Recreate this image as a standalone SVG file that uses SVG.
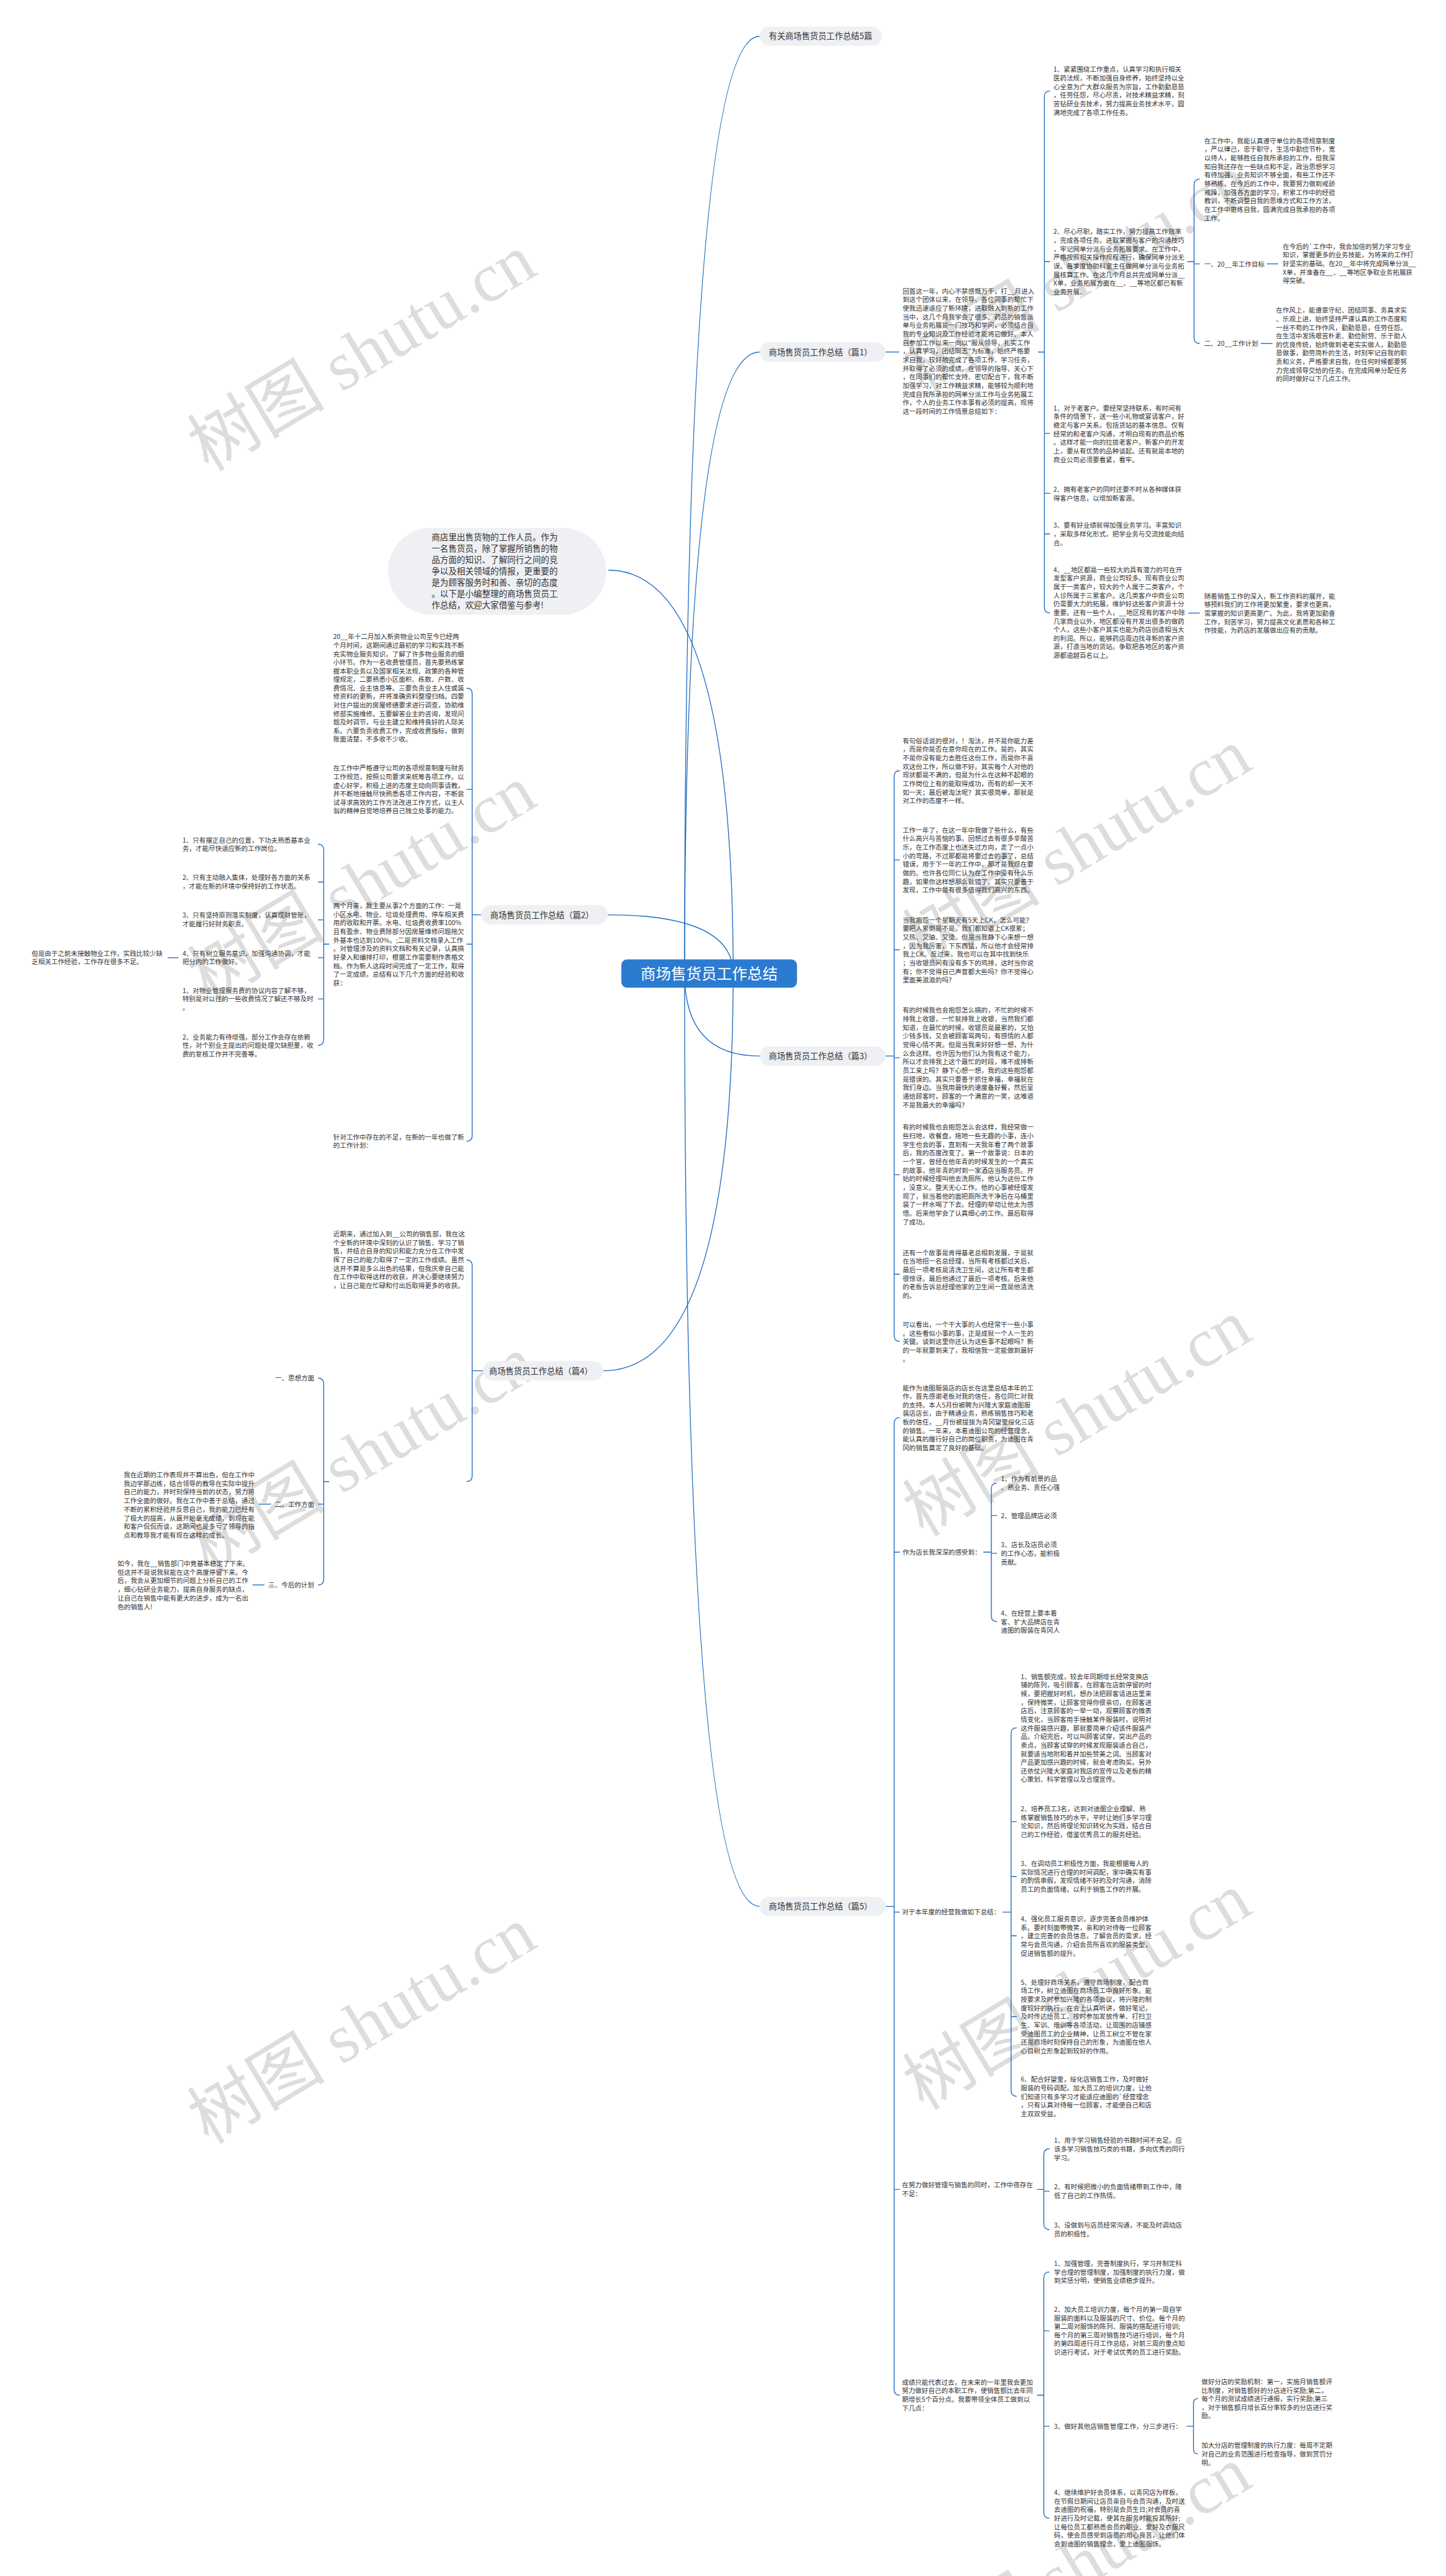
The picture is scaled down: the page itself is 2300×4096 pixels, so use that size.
<svg xmlns="http://www.w3.org/2000/svg" width="2300" height="4096" viewBox="0 0 2300 4096">
<style>
.t{font-family:"Noto Sans CJK SC","Noto Sans",sans-serif;font-size:11.6px;fill:#333}
.lb{font-size:14.6px;fill:#333}
.ib{font-size:14.9px;fill:#333}
.box{fill:#eef0f3}
.ln{fill:none;stroke:#1f6cc0;stroke-width:1.5}
.wm{font-family:"Liberation Serif","Noto Sans CJK SC",serif;font-size:122px;fill:#cfcfcf;fill-opacity:.7}
</style>
<rect width="2300" height="4096" fill="#ffffff"/>
<g transform="scale(0.8984375)">
<g id="watermark">
<text class="wm" text-anchor="middle" transform="translate(662,660) rotate(-31)">树图 shutu.cn</text>
<text class="wm" text-anchor="middle" transform="translate(1928,520) rotate(-31)">树图 shutu.cn</text>
<text class="wm" text-anchor="middle" transform="translate(662,1600) rotate(-31)">树图 shutu.cn</text>
<text class="wm" text-anchor="middle" transform="translate(1928,1535) rotate(-31)">树图 shutu.cn</text>
<text class="wm" text-anchor="middle" transform="translate(662,2610) rotate(-31)">树图 shutu.cn</text>
<text class="wm" text-anchor="middle" transform="translate(1928,2545) rotate(-31)">树图 shutu.cn</text>
<text class="wm" text-anchor="middle" transform="translate(662,3620) rotate(-31)">树图 shutu.cn</text>
<text class="wm" text-anchor="middle" transform="translate(1928,3560) rotate(-31)">树图 shutu.cn</text>
<text class="wm" text-anchor="middle" transform="translate(1928,4575) rotate(-31)">树图 shutu.cn</text>
</g>
<g id="connectors">
<path class="ln" d="M1212 1723 Q1212 64 1345 64"/>
<path class="ln" d="M1212 1723 Q1212 623 1345 623"/>
<path class="ln" d="M1212 1723 Q1212 1869 1345 1869"/>
<path class="ln" d="M1212 1723 Q1212 3374 1345 3374"/>
<path class="ln" d="M1298 1723 Q1298 1009 1077 1009"/>
<path class="ln" d="M1298 1723 Q1298 1619 1076 1619"/>
<path class="ln" d="M1298 1723 Q1298 2426 1068 2426"/>
<path class="ln" d="M1568 623 H1592"/>
<path class="ln" d="M1838 623 H1849 M1859 161 Q1849 161 1849 171 V1075 Q1849 1085 1859 1085 M1849 463 H1859 M1849 767 H1859 M1849 873 H1859 M1849 945 H1859"/>
<path class="ln" d="M2102 463 H2114 M2124 317 Q2114 317 2114 327 V598 Q2114 608 2124 608 M2114 467 H2124"/>
<path class="ln" d="M2243 467 H2263"/>
<path class="ln" d="M2232 608 H2253"/>
<path class="ln" d="M2104 1085 H2124"/>
<path class="ln" d="M852 1619 H836 M826 1218 Q836 1218 836 1228 V2010 Q836 2020 826 2020 M836 1397 H826 M836 1671 H826"/>
<path class="ln" d="M583 1671 H573 M563 1494 Q573 1494 573 1504 V1840 Q573 1850 563 1850 M573 1561 H563 M573 1628 H563 M573 1695 H563 M573 1768 H563"/>
<path class="ln" d="M316 1695 H297"/>
<path class="ln" d="M1568 1869 H1583 M1593 1364 Q1583 1364 1583 1374 V2364 Q1583 2374 1593 2374 M1583 1522 H1593 M1583 1681 H1593 M1583 1872 H1593 M1583 2079 H1593 M1583 2255 H1593"/>
<path class="ln" d="M855 2426 H836 M826 2230 Q836 2230 836 2240 V2612 Q836 2622 826 2622"/>
<path class="ln" d="M583 2622 H573 M563 2439 Q573 2439 573 2449 V2795 Q573 2805 563 2805 M573 2662 H563"/>
<path class="ln" d="M480 2662 H458"/>
<path class="ln" d="M468 2805 H447"/>
<path class="ln" d="M1568 3374 H1583 M1593 2509 Q1583 2509 1583 2519 V4229 Q1583 4239 1593 4239 M1583 2747 H1593 M1583 3384 H1593 M1583 3875 H1593"/>
<path class="ln" d="M1741 2747 H1755 M1765 2625 Q1755 2625 1755 2635 V2860 Q1755 2870 1765 2870 M1755 2682 H1765 M1755 2749 H1765"/>
<path class="ln" d="M1775 3384 H1790 M1800 3058 Q1790 3058 1790 3068 V3700 Q1790 3710 1800 3710 M1790 3224 H1800 M1790 3321 H1800 M1790 3426 H1800 M1790 3569 H1800"/>
<path class="ln" d="M1836 3875 H1848 M1858 3803 Q1848 3803 1848 3813 V3936 Q1848 3946 1858 3946 M1848 3878 H1858"/>
<path class="ln" d="M1836 4239 H1848 M1858 4021 Q1848 4021 1848 4031 V4447 Q1848 4457 1858 4457 M1848 4125 H1858 M1848 4294 H1858"/>
<path class="ln" d="M2101 4294 H2113 M2121 4245 Q2113 4245 2113 4253 V4335 Q2113 4343 2121 4343"/>
</g>
<g id="n-center">
<rect x="1100" y="1698" width="311" height="50" rx="10" fill="#2b7bd0"/>
<text x="1255.5" y="1732.5" text-anchor="middle" style="font-family:'Noto Sans CJK SC',sans-serif;font-size:27px;fill:#fff">商场售货员工作总结</text>
</g>
<g id="n-top"><rect class="box" x="1345" y="47" width="216" height="34" rx="17"/><text class="t lb" x="1361" y="69.5">有关商场售货员工作总结5篇</text></g>
<g id="n-intro"><rect class="box" x="687" y="934" width="386" height="154" rx="77"/>
<text class="t ib" x="764" y="956"><tspan x="764">商店里出售货物的工作人员。作为</tspan><tspan x="764" dy="20">一名售货员，除了掌握所销售的物</tspan><tspan x="764" dy="20">品方面的知识、了解同行之间的竞</tspan><tspan x="764" dy="20">争以及相关领域的情报，更重要的</tspan><tspan x="764" dy="20">是为顾客服务时和善、亲切的态度</tspan><tspan x="764" dy="20">。以下是小编整理的商场售货员工</tspan><tspan x="764" dy="20">作总结，欢迎大家借鉴与参考!</tspan></text></g>
<g id="n-p1"><rect class="box" x="1345" y="606" width="223" height="34" rx="17"/><text class="t lb" x="1361" y="628.5">商场售货员工作总结（篇1）</text></g>
<g id="n-p2"><rect class="box" x="852" y="1602" width="224" height="34" rx="17"/><text class="t lb" x="868" y="1624.5">商场售货员工作总结（篇2）</text></g>
<g id="n-p3"><rect class="box" x="1345" y="1852" width="223" height="34" rx="17"/><text class="t lb" x="1361" y="1874.5">商场售货员工作总结（篇3）</text></g>
<g id="n-p4"><rect class="box" x="855" y="2409" width="213" height="34" rx="17"/><text class="t lb" x="866" y="2431.5">商场售货员工作总结（篇4）</text></g>
<g id="n-p5"><rect class="box" x="1345" y="3357" width="223" height="34" rx="17"/><text class="t lb" x="1361" y="3379.5">商场售货员工作总结（篇5）</text></g>

<g id="n-a0"><text class="t" x="1598" y="519.4"><tspan x="1598">回首这一年，内心不禁感慨万千，打__月进入</tspan><tspan x="1598" dy="15.2">到这个团体以来，在领导、各位同事的帮忙下</tspan><tspan x="1598" dy="15.2">使我迅速适应了新环境，进取融入到新的工作</tspan><tspan x="1598" dy="15.2">当中，这几个月我学会了很多。药品的销售派</tspan><tspan x="1598" dy="15.2">单与业务拓展是一门技巧和学问，必须结合自</tspan><tspan x="1598" dy="15.2">我的专业知识及工作经验才能将它做好。本人</tspan><tspan x="1598" dy="15.2">自参加工作以来一向以"服从领导，扎实工作</tspan><tspan x="1598" dy="15.2">，认真学习，团结同志"为标准，始终严格要</tspan><tspan x="1598" dy="15.2">求自我，较好地完成了各项工作、学习任务，</tspan><tspan x="1598" dy="15.2">并取得了必须的成绩。在领导的指导、关心下</tspan><tspan x="1598" dy="15.2">，在同事们的帮忙支持、密切配合下，我不断</tspan><tspan x="1598" dy="15.2">加强学习，对工作精益求精，能够较为顺利地</tspan><tspan x="1598" dy="15.2">完成自我所承担的网单分派工作与业务拓展工</tspan><tspan x="1598" dy="15.2">作，个人的业务工作本事有必须的提高，现将</tspan><tspan x="1598" dy="15.2">这一段时间的工作情景总结如下：</tspan></text></g>
<g id="n-a1"><text class="t" x="1865" y="127.4"><tspan x="1865">1、紧紧围绕工作重点，认真学习和执行相关</tspan><tspan x="1865" dy="15.2">医药法规，不断加强自身修养，始终坚持以全</tspan><tspan x="1865" dy="15.2">心全意为广大群众服务为宗旨，工作勤勤恳恳</tspan><tspan x="1865" dy="15.2">，任劳任怨，尽心尽责，对技术精益求精，刻</tspan><tspan x="1865" dy="15.2">苦钻研业务技术，努力提高业务技术水平，圆</tspan><tspan x="1865" dy="15.2">满地完成了各项工作任务。</tspan></text></g>
<g id="n-a2"><text class="t" x="1865" y="414.4"><tspan x="1865">2、尽心尽职，踏实工作，努力提高工作效率</tspan><tspan x="1865" dy="15.2">，完成各项任务。进取掌握与客户的沟通技巧</tspan><tspan x="1865" dy="15.2">，牢记网单分派与业务拓展要求。在工作中，</tspan><tspan x="1865" dy="15.2">严格按照相关操作规程进行，确保网单分派无</tspan><tspan x="1865" dy="15.2">误。每季度协助科室主任做网单分派与业务拓</tspan><tspan x="1865" dy="15.2">展核算工作。在这几个月总共完成网单分派__</tspan><tspan x="1865" dy="15.2">X单，业务拓展方面在__、__等地区都已有新</tspan><tspan x="1865" dy="15.2">业务开展。</tspan></text></g>
<g id="n-b1"><text class="t" x="2132" y="253.4"><tspan x="2132">在工作中，我能认真遵守单位的各项规章制度</tspan><tspan x="2132" dy="15.2">，严以律己，忠于职守，生活中勤俭节朴，宽</tspan><tspan x="2132" dy="15.2">以待人，能够胜任自我所承担的工作，但我深</tspan><tspan x="2132" dy="15.2">知自我还存在一些缺点和不足，政治思想学习</tspan><tspan x="2132" dy="15.2">有待加强，业务知识不够全面，有些工作还不</tspan><tspan x="2132" dy="15.2">够熟练。在今后的工作中，我要努力做到戒骄</tspan><tspan x="2132" dy="15.2">戒躁，加强各方面的学习，积累工作中的经验</tspan><tspan x="2132" dy="15.2">教训，不断调整自我的思维方式和工作方法，</tspan><tspan x="2132" dy="15.2">在工作中磨练自我，圆满完成自我承担的各项</tspan><tspan x="2132" dy="15.2">工作。</tspan></text></g>
<g id="n-b2"><text class="t" x="2132" y="471.4">一、20__年工作目标</text></g>
<g id="n-b3"><text class="t" x="2271" y="440.4"><tspan x="2271">在今后的`工作中，我会加倍的努力学习专业</tspan><tspan x="2271" dy="15.2">知识，掌握更多的业务技能，为将来的工作打</tspan><tspan x="2271" dy="15.2">好坚实的基础。在20__年中将完成网单分派__</tspan><tspan x="2271" dy="15.2">X单，并准备在__、__等地区争取业务拓展获</tspan><tspan x="2271" dy="15.2">得突破。</tspan></text></g>
<g id="n-b4"><text class="t" x="2132" y="612.4">二、20__工作计划</text></g>
<g id="n-b5"><text class="t" x="2259" y="553.4"><tspan x="2259">在作风上，能遵章守纪、团结同事、务真求实</tspan><tspan x="2259" dy="15.2">、乐观上进，始终坚持严谨认真的工作态度和</tspan><tspan x="2259" dy="15.2">一丝不苟的工作作风，勤勤恳恳，任劳任怨。</tspan><tspan x="2259" dy="15.2">在生活中发扬艰苦朴素、勤俭耐劳、乐于助人</tspan><tspan x="2259" dy="15.2">的优良传统，始终做到老老实实做人，勤勤恳</tspan><tspan x="2259" dy="15.2">恳做事，勤劳简朴的生活，时刻牢记自我的职</tspan><tspan x="2259" dy="15.2">责和义务，严格要求自我，在任何时候都要努</tspan><tspan x="2259" dy="15.2">力完成领导交给的任务。在完成网单分配任务</tspan><tspan x="2259" dy="15.2">的同时做好以下几点工作。</tspan></text></g>
<g id="n-a3"><text class="t" x="1865" y="726.4"><tspan x="1865">1、对于老客户。要经常坚持联系，有时间有</tspan><tspan x="1865" dy="15.2">条件的情景下，送一些小礼物或宴请客户，好</tspan><tspan x="1865" dy="15.2">稳定与客户关系。包括货站的基本信息。仅有</tspan><tspan x="1865" dy="15.2">经常的和老客户沟通，才明白现有的商品价格</tspan><tspan x="1865" dy="15.2">。这样才能一向的拉拢老客户。新客户的开发</tspan><tspan x="1865" dy="15.2">上，要从有优势的品种谈起。还有就是本地的</tspan><tspan x="1865" dy="15.2">商业公司必须要看紧，看牢。</tspan></text></g>
<g id="n-a4"><text class="t" x="1865" y="870.4"><tspan x="1865">2、拥有老客户的同时还要不时从各种媒体获</tspan><tspan x="1865" dy="15.2">得客户信息，以增加新客源。</tspan></text></g>
<g id="n-a5"><text class="t" x="1865" y="934.4"><tspan x="1865">3、要有好业绩就得加强业务学习。丰富知识</tspan><tspan x="1865" dy="15.2">，采取多样化形式，把学业务与交流技能向结</tspan><tspan x="1865" dy="15.2">合。</tspan></text></g>
<g id="n-a6"><text class="t" x="1865" y="1012.4"><tspan x="1865">4、__地区都是一些较大的具有潜力的可在开</tspan><tspan x="1865" dy="15.2">发型客户资源，商业公司较多。现有商业公司</tspan><tspan x="1865" dy="15.2">属于一类客户，较大的个人属于二类客户，个</tspan><tspan x="1865" dy="15.2">人诊所属于三累客户。这几类客户中商业公司</tspan><tspan x="1865" dy="15.2">仍需要大力的拓展，维护好这些客户资源十分</tspan><tspan x="1865" dy="15.2">重要。还有一些个人，__地区现有的客户中除</tspan><tspan x="1865" dy="15.2">几家商业以外，地区都没有开发出很多的做药</tspan><tspan x="1865" dy="15.2">个人，这些小客户其实也能为药店创造相当大</tspan><tspan x="1865" dy="15.2">的利润。所以，能够药店周边找寻新的客户资</tspan><tspan x="1865" dy="15.2">源，打造当地的货站。争取把各地区的客户资</tspan><tspan x="1865" dy="15.2">源都逾越百名以上。</tspan></text></g>
<g id="n-b6"><text class="t" x="2132" y="1059.4"><tspan x="2132">随着销售工作的深入，新工作资料的展开，能</tspan><tspan x="2132" dy="15.2">够预料我们的工作将更加繁重，要求也更高，</tspan><tspan x="2132" dy="15.2">需掌握的知识更高更广。为此，我将更加勤奋</tspan><tspan x="2132" dy="15.2">工作，刻苦学习，努力提高文化素质和各种工</tspan><tspan x="2132" dy="15.2">作技能，为药店的发展做出应有的贡献。</tspan></text></g>

<g id="n-c1"><text class="t" x="590" y="1131.4"><tspan x="590">20__年十二月加入新资物业公司至今已经两</tspan><tspan x="590" dy="15.1">个月时间，这期间通过最初的学习和实践不断</tspan><tspan x="590" dy="15.1">充实物业服务知识，了解了许多物业服务的细</tspan><tspan x="590" dy="15.1">小环节。作为一名收费管理员，首先要熟练掌</tspan><tspan x="590" dy="15.1">握本职业务以及国家相关法规、政策的各种管</tspan><tspan x="590" dy="15.1">理规定，二要熟悉小区面积、栋数、户数、收</tspan><tspan x="590" dy="15.1">费情况、业主信息等。三要负责业主入住或装</tspan><tspan x="590" dy="15.1">修资料的更新，并将准确资料整理归档。四要</tspan><tspan x="590" dy="15.1">对住户提出的房屋修缮要求进行调查，协助维</tspan><tspan x="590" dy="15.1">修部实施维修。五要解答业主的咨询，发现问</tspan><tspan x="590" dy="15.1">题及时调节，与业主建立和维持良好的人际关</tspan><tspan x="590" dy="15.1">系。六要负责收费工作，完成收费指标，做到</tspan><tspan x="590" dy="15.1">账面清楚，不多收不少收。</tspan></text></g>
<g id="n-c2"><text class="t" x="590" y="1363.9"><tspan x="590">在工作中严格遵守公司的各项规章制度与财务</tspan><tspan x="590" dy="15.1">工作规范，按照公司要求来统筹各项工作。以</tspan><tspan x="590" dy="15.1">虚心好学，积极上进的态度主动向同事请教，</tspan><tspan x="590" dy="15.1">并不断地接触尽快熟悉各项工作内容，不断尝</tspan><tspan x="590" dy="15.1">试寻求高效的工作方法改进工作方式，以主人</tspan><tspan x="590" dy="15.1">翁的精神自觉地培养自己独立处事的能力。</tspan></text></g>
<g id="n-c3"><text class="t" x="590" y="1607.4"><tspan x="590">两个月来，我主要从事2个方面的工作：一是</tspan><tspan x="590" dy="15.2">小区水电、物业、垃圾处理费用、停车相关费</tspan><tspan x="590" dy="15.2">用的收取和开票。水电、垃圾费收费率100%</tspan><tspan x="590" dy="15.2">且有盈余、物业费除部分因房屋维修问题拖欠</tspan><tspan x="590" dy="15.2">外基本也达到100%。;二是资料文档录入工作</tspan><tspan x="590" dy="15.2">。对管理涉及的资料文档和有关记录，认真搞</tspan><tspan x="590" dy="15.2">好录入和编排打印，根据工作需要制作表格文</tspan><tspan x="590" dy="15.2">档。作为新人这段时间完成了一定工作，取得</tspan><tspan x="590" dy="15.2">了一定成绩，总结有以下几个方面的经验和收</tspan><tspan x="590" dy="15.2">获：</tspan></text></g>
<g id="n-c4"><text class="t" x="590" y="2016.4"><tspan x="590">针对工作中存在的不足，在新的一年也做了新</tspan><tspan x="590" dy="15.2">的工作计划：</tspan></text></g>
<g id="n-d1"><text class="t" x="323" y="1491.1"><tspan x="323">1、只有摆正自己的位置，下功夫熟悉基本业</tspan><tspan x="323" dy="15">务，才能尽快适应新的工作岗位。</tspan></text></g>
<g id="n-d2"><text class="t" x="323" y="1557.4"><tspan x="323">2、只有主动融入集体，处理好各方面的关系</tspan><tspan x="323" dy="15">，才能在新的环境中保持好的工作状态。</tspan></text></g>
<g id="n-d3"><text class="t" x="323" y="1624.4"><tspan x="323">3、只有坚持原则落实制度，认真理财管账，</tspan><tspan x="323" dy="15">才能履行好财务职责。</tspan></text></g>
<g id="n-d4"><text class="t" x="323" y="1691.4"><tspan x="323">4、只有树立服务意识，加强沟通协调，才能</tspan><tspan x="323" dy="15">把分内的工作做好。</tspan></text></g>
<g id="n-d5"><text class="t" x="323" y="1757.4"><tspan x="323">1、对物业管理服务费的协议内容了解不够，</tspan><tspan x="323" dy="15">特别是对以往的一些收费情况了解还不够及时</tspan><tspan x="323" dy="15">。</tspan></text></g>
<g id="n-d6"><text class="t" x="323" y="1839.4"><tspan x="323">2、业务能力有待增强，部分工作会存在依赖</tspan><tspan x="323" dy="15">性，对个别业主提出的问题处理欠缺胆量，收</tspan><tspan x="323" dy="15">费的复核工作并不完善等。</tspan></text></g>
<g id="n-d7"><text class="t" x="56" y="1691.4"><tspan x="56">但是由于之前未接触物业工作，实践比较少缺</tspan><tspan x="56" dy="15">乏相关工作经验，工作存在很多不足。</tspan></text></g>

<g id="n-e1"><text class="t" x="1598" y="1315.4"><tspan x="1598">有句俗话说的很对，！淘汰，并不是你能力差</tspan><tspan x="1598" dy="15.2">，而是你是否在意你现在的工作。是的，其实</tspan><tspan x="1598" dy="15.2">不是你没有能力去胜任这份工作，而是你不喜</tspan><tspan x="1598" dy="15.2">欢这份工作，所以做不好。其实每个人对他的</tspan><tspan x="1598" dy="15.2">现状都是不满的，但是为什么在这种不起眼的</tspan><tspan x="1598" dy="15.2">工作岗位上有的能取得成功，而有的却一天不</tspan><tspan x="1598" dy="15.2">如一天；最后被淘汰呢？其实很简单，那就是</tspan><tspan x="1598" dy="15.2">对工作的态度不一样。</tspan></text></g>
<g id="n-e2"><text class="t" x="1598" y="1473.4"><tspan x="1598">工作一年了，在这一年中我做了些什么，有些</tspan><tspan x="1598" dy="15.2">什么高兴与苦恼的事。回想过去有很多辛酸苦</tspan><tspan x="1598" dy="15.2">乐，在工作态度上也迷失过方向，走了一点小</tspan><tspan x="1598" dy="15.2">小的弯路，不过那都是将要过去的事了，总结</tspan><tspan x="1598" dy="15.2">错误，用于下一年的工作中，那才是我现在要</tspan><tspan x="1598" dy="15.2">做的。也许各位同仁认为在工作中没有什么乐</tspan><tspan x="1598" dy="15.2">趣，如果你这样想那么就错了。其实只要善于</tspan><tspan x="1598" dy="15.2">发现，工作中是有很多值得我们高兴的东西。</tspan></text></g>
<g id="n-e3"><text class="t" x="1598" y="1632.4"><tspan x="1598">当我抱怨一个星期天有5天上CK，怎么可能？</tspan><tspan x="1598" dy="15.2">要把人累倒是不是。我们都知道上CK很累；</tspan><tspan x="1598" dy="15.2">又热、又油、又烫。但是当我静下心来想一想</tspan><tspan x="1598" dy="15.2">，因为我厉害，下东西猛，所以他才会经常排</tspan><tspan x="1598" dy="15.2">我上CK。反过来，我也可以在其中找到快乐</tspan><tspan x="1598" dy="15.2">；当收银员问有没有多下的鸡排，这时当你说</tspan><tspan x="1598" dy="15.2">有；你不觉得自己声音都大些吗？你不觉得心</tspan><tspan x="1598" dy="15.2">里面美滋滋的吗？</tspan></text></g>
<g id="n-e4"><text class="t" x="1598" y="1792.4"><tspan x="1598">有的时候我也会抱怨怎么搞的，不忙的时候不</tspan><tspan x="1598" dy="15.2">排我上收银，一忙就排我上收银，当然我们都</tspan><tspan x="1598" dy="15.2">知道，在最忙的时候，收银员是最累的，又怕</tspan><tspan x="1598" dy="15.2">少钱多钱，又会被顾客骂两句，有感情的人都</tspan><tspan x="1598" dy="15.2">觉得心情不爽。但是当我来好好想一想，为什</tspan><tspan x="1598" dy="15.2">么会这样。也许因为他们认为我有这个能力，</tspan><tspan x="1598" dy="15.2">所以才会排我上这个最忙的时段，难不成排新</tspan><tspan x="1598" dy="15.2">员工来上吗？静下心想一想，我的这些抱怨都</tspan><tspan x="1598" dy="15.2">是错误的。其实只要善于抓住幸福，幸福就在</tspan><tspan x="1598" dy="15.2">我们身边。当我用最快的速度备好餐，然后呈</tspan><tspan x="1598" dy="15.2">递给顾客时，顾客的一个满意的一笑，这难道</tspan><tspan x="1598" dy="15.2">不是我最大的幸福吗？</tspan></text></g>
<g id="n-e5"><text class="t" x="1598" y="1999.4"><tspan x="1598">有的时候我也会抱怨怎么会这样，我经常做一</tspan><tspan x="1598" dy="15.2">些扫地，收餐盘，拖地一些无趣的小事，连小</tspan><tspan x="1598" dy="15.2">学生也会的事，直到有一天我年看了两个故事</tspan><tspan x="1598" dy="15.2">后，我的态度改变了。第一个故事说：日本的</tspan><tspan x="1598" dy="15.2">一个官，曾经在他年青的时候发生的一个真实</tspan><tspan x="1598" dy="15.2">的故事，他年青的时到一家酒店当服务员。开</tspan><tspan x="1598" dy="15.2">始的时候经理叫他去洗厕所，他认为这份工作</tspan><tspan x="1598" dy="15.2">，没意义。整天无心工作。他的心事被经理发</tspan><tspan x="1598" dy="15.2">现了，就当着他的面把厕所洗干净后在马桶里</tspan><tspan x="1598" dy="15.2">装了一杯水喝了下去。经理的举动让他太为感</tspan><tspan x="1598" dy="15.2">悟。后来他学会了认真细心的工作。最后取得</tspan><tspan x="1598" dy="15.2">了成功。</tspan></text></g>
<g id="n-e6"><text class="t" x="1598" y="2221.4"><tspan x="1598">还有一个故事是肯得基老总相到发展，于是就</tspan><tspan x="1598" dy="15.2">在当地招一名总经理，当所有考核都过关后，</tspan><tspan x="1598" dy="15.2">最后一项考核是清洗卫生间，这让所有考生都</tspan><tspan x="1598" dy="15.2">很惊讶。最后他通过了最后一项考核。后来他</tspan><tspan x="1598" dy="15.2">的老板告诉总经理他家的卫生间一直是他清洗</tspan><tspan x="1598" dy="15.2">的。</tspan></text></g>
<g id="n-e7"><text class="t" x="1598" y="2348.4"><tspan x="1598">可以看出，一个干大事的人也经常干一些小事</tspan><tspan x="1598" dy="15.2">。这些看似小事的事，正是成就一个人一生的</tspan><tspan x="1598" dy="15.2">关键。谈到这里你还认为这些事不起眼吗？新</tspan><tspan x="1598" dy="15.2">的一年就要到来了，我相信我一定能做到最好</tspan><tspan x="1598" dy="15.2">。</tspan></text></g>

<g id="n-c5"><text class="t" x="590" y="2188.4"><tspan x="590">近期来，通过加入到__公司的销售部，我在这</tspan><tspan x="590" dy="15.2">个全新的环境中深刻的认识了销售、学习了销</tspan><tspan x="590" dy="15.2">售，并结合自身的知识和能力充分在工作中发</tspan><tspan x="590" dy="15.2">挥了自己的能力取得了一定的工作成绩。虽然</tspan><tspan x="590" dy="15.2">这并不算是多么出色的结果，但我庆幸自己能</tspan><tspan x="590" dy="15.2">在工作中取得这样的收获，并决心要继续努力</tspan><tspan x="590" dy="15.2">，让自己能在忙碌和付出后取得更多的收获。</tspan></text></g>
<g id="n-g1"><text class="t" x="487" y="2443.4">一、思想方面</text></g>
<g id="n-g2"><text class="t" x="487" y="2666.4">二、工作方面</text></g>
<g id="n-g2t"><text class="t" x="219" y="2614.4"><tspan x="219">我在近期的工作表现并不算出色，但在工作中</tspan><tspan x="219" dy="15.3">我边学那边练，结合领导的教导在实际中提升</tspan><tspan x="219" dy="15.3">自己的能力，并时刻保持当前的状态，努力将</tspan><tspan x="219" dy="15.3">工作全面的做好。我在工作中善于总结，通过</tspan><tspan x="219" dy="15.3">不断的累积经验并反思自己，我的能力已经有</tspan><tspan x="219" dy="15.3">了极大的提高，从最开始毫无成绩，到现在能</tspan><tspan x="219" dy="15.3">和客户侃侃而谈，这期间也是多亏了领导的指</tspan><tspan x="219" dy="15.3">点和教导我才能有现在这样的成长。</tspan></text></g>
<g id="n-g3"><text class="t" x="475" y="2809.4">三、今后的计划</text></g>
<g id="n-g3t"><text class="t" x="208" y="2771.4"><tspan x="208">如今，我在__销售部门中竞基本稳定了下来。</tspan><tspan x="208" dy="15.3">但这并不是说我就能在这个高度停留下来。今</tspan><tspan x="208" dy="15.3">后，我会从更加细节的问题上分析自己的工作</tspan><tspan x="208" dy="15.3">，细心钻研业务能力，提高自身服务的缺点，</tspan><tspan x="208" dy="15.3">让自己在销售中能有更大的进步，成为一名出</tspan><tspan x="208" dy="15.3">色的销售人!</tspan></text></g>

<g id="n-f1"><text class="t" x="1598" y="2460.4"><tspan x="1598">能作为迪图服装店的店长在这里总结本年的工</tspan><tspan x="1598" dy="15.2">作，首先感谢老板对我的信任，各位同仁对我</tspan><tspan x="1598" dy="15.2">的支持。本人5月份被聘为兴隆大家庭迪图服</tspan><tspan x="1598" dy="15.2">装店店长，由于精通业务，熟练销售技巧和老</tspan><tspan x="1598" dy="15.2">板的信任，__月份被提拔为青冈望奎绥化三店</tspan><tspan x="1598" dy="15.2">的销售。一年来，本着迪图公司的经营理念，</tspan><tspan x="1598" dy="15.2">能认真的履行好自己的岗位职责，为迪图在青</tspan><tspan x="1598" dy="15.2">冈的销售奠定了良好的基础。</tspan></text></g>
<g id="n-f2"><text class="t" x="1598" y="2751.4">作为店长我深深的感受到：</text></g>
<g id="n-m1"><text class="t" x="1772" y="2621.4"><tspan x="1772">1、作为有前景的品</tspan><tspan x="1772" dy="15.2">、熟业务、责任心强</tspan></text></g>
<g id="n-m2"><text class="t" x="1772" y="2686.4">2、管理品牌店必须</text></g>
<g id="n-m3"><text class="t" x="1772" y="2738.4"><tspan x="1772">3、店长及店员必须</tspan><tspan x="1772" dy="15.2">的工作心态，能积极</tspan><tspan x="1772" dy="15.2">贡献。</tspan></text></g>
<g id="n-m4"><text class="t" x="1772" y="2859.4"><tspan x="1772">4、在经营上要本着</tspan><tspan x="1772" dy="15.2">客、扩大品牌店在青</tspan><tspan x="1772" dy="15.2">迪图的服装在青冈人</tspan></text></g>
<g id="n-f3"><text class="t" x="1597" y="3388.4">对于本年度的经营我做如下总结：</text></g>
<g id="n-h1"><text class="t" x="1807" y="2971.4"><tspan x="1807">1、销售额完成，较去年同期增长经常变换店</tspan><tspan x="1807" dy="15.2">铺的陈列，吸引顾客，在顾客在店前停留的时</tspan><tspan x="1807" dy="15.2">候，要把握好时机，想办法把顾客请进店里来</tspan><tspan x="1807" dy="15.2">，保持微笑，让顾客觉得你很亲切，在顾客进</tspan><tspan x="1807" dy="15.2">店后，注意顾客的一举一动，观察顾客的微表</tspan><tspan x="1807" dy="15.2">情变化，当顾客用手接触某件服装时，说明对</tspan><tspan x="1807" dy="15.2">这件服装感兴趣，那就要简单介绍该件服装产</tspan><tspan x="1807" dy="15.2">品。介绍完后，可以叫顾客试穿，突出产品的</tspan><tspan x="1807" dy="15.2">卖点，当顾客试穿的时候发现服装适合自己，</tspan><tspan x="1807" dy="15.2">就要适当地附和着并加些赞美之词。当顾客对</tspan><tspan x="1807" dy="15.2">产品更加感兴趣的时候，就会考虑购买。另外</tspan><tspan x="1807" dy="15.2">还依仗兴隆大家庭对我店的宣传以及老板的精</tspan><tspan x="1807" dy="15.2">心策划、科学管理以及合理宣传。</tspan></text></g>
<g id="n-h2"><text class="t" x="1807" y="3205.4"><tspan x="1807">2、培养员工3名，达到对迪图企业理解、熟</tspan><tspan x="1807" dy="15.2">练掌握销售技巧的水平，平时让她们多学习理</tspan><tspan x="1807" dy="15.2">论知识，然后将理论知识转化为实践，结合自</tspan><tspan x="1807" dy="15.2">己的工作经验，借鉴优秀员工的服务经验。</tspan></text></g>
<g id="n-h3"><text class="t" x="1807" y="3302.4"><tspan x="1807">3、在调动员工积极性方面，我能根据每人的</tspan><tspan x="1807" dy="15.2">实际情况进行合理的时间调配，家中确实有事</tspan><tspan x="1807" dy="15.2">的酌情串假，发现情绪不好的及时沟通，消除</tspan><tspan x="1807" dy="15.2">员工的负面情绪，以利于销售工作的开展。</tspan></text></g>
<g id="n-h4"><text class="t" x="1807" y="3400.4"><tspan x="1807">4、强化员工服务意识，逐步完善会员维护体</tspan><tspan x="1807" dy="15.2">系。要时刻面带微笑，亲和的对待每一位顾客</tspan><tspan x="1807" dy="15.2">，建立完善的会员信息，了解会员的需求，经</tspan><tspan x="1807" dy="15.2">常与会员沟通，介绍会员所喜欢的服装类型，</tspan><tspan x="1807" dy="15.2">促进销售额的提升。</tspan></text></g>
<g id="n-h5"><text class="t" x="1807" y="3512.4"><tspan x="1807">5、处理好商场关系，遵守商场制度，配合商</tspan><tspan x="1807" dy="15.2">场工作，树立迪图在商场员工中良好形象。能</tspan><tspan x="1807" dy="15.2">按要求及时参加兴隆的各项会议，将兴隆的制</tspan><tspan x="1807" dy="15.2">度较好的执行，在会上认真听讲，做好笔记，</tspan><tspan x="1807" dy="15.2">及时传达给员工，按时参加发放传单、打扫卫</tspan><tspan x="1807" dy="15.2">生、军训、培训等各项活动，让周围的店铺感</tspan><tspan x="1807" dy="15.2">受迪图员工的企业精神，让员工树立不管在家</tspan><tspan x="1807" dy="15.2">还是商场时刻保持自己的形象，为迪图在他人</tspan><tspan x="1807" dy="15.2">心目树立形象起到较好的作用。</tspan></text></g>
<g id="n-h6"><text class="t" x="1807" y="3684.4"><tspan x="1807">6、配合好望奎，绥化店销售工作，及时做好</tspan><tspan x="1807" dy="15.2">服装的号码调配，加大员工的培训力度，让他</tspan><tspan x="1807" dy="15.2">们知道只有多学习才能适应迪图的`经营理念</tspan><tspan x="1807" dy="15.2">，只有认真对待每一位顾客，才能使自己和店</tspan><tspan x="1807" dy="15.2">主双双受益。</tspan></text></g>
<g id="n-f4"><text class="t" x="1597" y="3871.4"><tspan x="1597">在努力做好管理与销售的同时，工作中夜存在</tspan><tspan x="1597" dy="15.2">不足：</tspan></text></g>
<g id="n-i1"><text class="t" x="1866" y="3792.4"><tspan x="1866">1、用于学习销售经验的书籍时间不充足。应</tspan><tspan x="1866" dy="15.2">该多学习销售技巧类的书籍，多向优秀的同行</tspan><tspan x="1866" dy="15.2">学习。</tspan></text></g>
<g id="n-i2"><text class="t" x="1866" y="3874.4"><tspan x="1866">2、有时候把微小的负面情绪带到工作中，降</tspan><tspan x="1866" dy="15.2">低了自己的工作热情。</tspan></text></g>
<g id="n-i3"><text class="t" x="1866" y="3942.4"><tspan x="1866">3、没做到与店员经常沟通，不能及时调动店</tspan><tspan x="1866" dy="15.2">员的积极性。</tspan></text></g>
<g id="n-f5"><text class="t" x="1597" y="4220.4"><tspan x="1597">成绩只能代表过去，在未来的一年里我会更加</tspan><tspan x="1597" dy="15.2">努力做好自己的本职工作，使销售额比去年同</tspan><tspan x="1597" dy="15.2">期增长5个百分点。我要带领全体员工做到以</tspan><tspan x="1597" dy="15.2">下几点：</tspan></text></g>
<g id="n-j1"><text class="t" x="1866" y="4010.4"><tspan x="1866">1、加强管理，完善制度执行，学习并制定科</tspan><tspan x="1866" dy="15.2">学合理的管理制度，加强制度的执行力度，做</tspan><tspan x="1866" dy="15.2">到奖惩分明，使销售业绩稳步提升。</tspan></text></g>
<g id="n-j2"><text class="t" x="1866" y="4091.4"><tspan x="1866">2、加大员工培训力度，每个月的第一周自学</tspan><tspan x="1866" dy="15.2">服装的面料以及服装的尺寸、价位。每个月的</tspan><tspan x="1866" dy="15.2">第二周对服饰的陈列、服装的搭配进行培训;</tspan><tspan x="1866" dy="15.2">每个月的第三周对销售技巧进行培训，每个月</tspan><tspan x="1866" dy="15.2">的第四周进行月工作总结，对前三周的重点知</tspan><tspan x="1866" dy="15.2">识进行考试，对于考试优秀的员工进行奖励。</tspan></text></g>
<g id="n-j3"><text class="t" x="1866" y="4298.4">3、做好其他店销售管理工作，分三步进行：</text></g>
<g id="n-k1"><text class="t" x="2127" y="4219.4"><tspan x="2127">做好分店的奖励机制：第一，实施月销售额评</tspan><tspan x="2127" dy="15.2">比制度，对销售额好的分店进行奖励;第二，</tspan><tspan x="2127" dy="15.2">每个月的测试成绩进行通报，实行奖励;第三</tspan><tspan x="2127" dy="15.2">，对于销售额月增长百分率较多的分店进行奖</tspan><tspan x="2127" dy="15.2">励。</tspan></text></g>
<g id="n-k2"><text class="t" x="2127" y="4332.4"><tspan x="2127">加大分店的管理制度的执行力度：每周不定期</tspan><tspan x="2127" dy="15.2">对自己的业务范围进行检查指导，做到赏罚分</tspan><tspan x="2127" dy="15.2">明。</tspan></text></g>
<g id="n-j4"><text class="t" x="1866" y="4415.4"><tspan x="1866">4、继续维护好会员体系，以青冈店为样板，</tspan><tspan x="1866" dy="15.2">在节假日期间让店员亲自与会员沟通，及时送</tspan><tspan x="1866" dy="15.2">去迪图的祝福，特别是会员生日;对会员的喜</tspan><tspan x="1866" dy="15.2">好进行及时记载，使其在服务时能投其所好;</tspan><tspan x="1866" dy="15.2">让每位员工都熟悉会员的职业、爱好及衣服尺</tspan><tspan x="1866" dy="15.2">码，使会员感受到店员的用心良苦，让他们体</tspan><tspan x="1866" dy="15.2">会到迪图的销售理念，爱上迪图服饰。</tspan></text></g>
</g>
</svg>
